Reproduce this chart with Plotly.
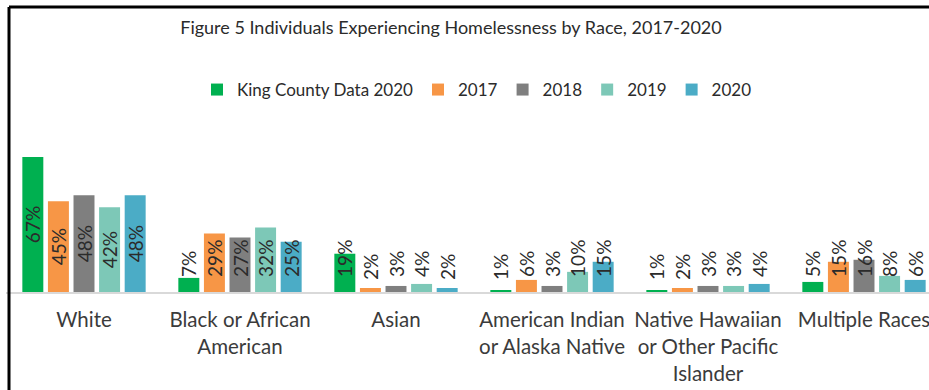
import plotly.graph_objects as go

categories = ["White", "Black or African<br>American", "Asian",
              "American Indian<br>or Alaska Native",
              "Native Hawaiian<br>or Other Pacific<br>Islander", "Multiple Races"]
series_names = ["King County Data 2020", "2017", "2018", "2019", "2020"]
king_county_2020 = [67, 7, 19, 1, 1, 5]
y2017 = [45, 29, 2, 6, 2, 15]
y2018 = [48, 27, 3, 3, 3, 16]
y2019 = [42, 32, 4, 10, 3, 8]
y2020 = [48, 25, 2, 15, 4, 6]
series_values = [king_county_2020, y2017, y2018, y2019, y2020]
colors = ["#00B050", "#F79646", "#7F7F7F", "#7DC8B7", "#4BACC6"]

FONT = "Lato"
TXT = "#2b2b2b"
CENTER_MIN = 40      # labels at or above this value sit centred in the bar
LABEL_LIFT = 6       # low labels start slightly above the baseline (style offset)

lab_font = dict(family=FONT, size=19, color=TXT)

fig = go.Figure()
for name, vals, col in zip(series_names, series_values, colors):
    fig.add_trace(go.Bar(
        name=name, x=categories, y=vals, offsetgroup=name,
        marker=dict(color=col, line=dict(width=0)),
        text=[f"{v}%" if v >= CENTER_MIN else "" for v in vals],
        textposition="inside", insidetextanchor="middle",
        textangle=-90, constraintext="none", cliponaxis=False,
        insidetextfont=lab_font, hoverinfo="skip",
    ))
for name, vals in zip(series_names, series_values):
    fig.add_trace(go.Bar(
        name=name, x=categories, y=vals, offsetgroup=name,
        base=[LABEL_LIFT] * len(vals), showlegend=False,
        marker=dict(color="rgba(0,0,0,0)", line=dict(width=0)),
        text=[f"{v}%" if v < CENTER_MIN else "" for v in vals],
        textposition="inside", insidetextanchor="start",
        textangle=-90, constraintext="none", cliponaxis=False,
        insidetextfont=lab_font, hoverinfo="skip",
    ))

W, H = 929, 390
ml, mr, mt, mb = 6, 0, 147, 98
plot_w = W - ml - mr
plot_h = H - mt - mb
cat_px = 156.0

fig.update_layout(
    width=W, height=H,
    margin=dict(l=ml, r=mr, t=mt, b=mb, pad=0, autoexpand=False),
    paper_bgcolor="white", plot_bgcolor="white",
    barmode="group", bargap=0.18, bargroupgap=0.18,
    title=dict(text="Figure 5 Individuals Experiencing Homelessness by Race, 2017-2020",
               x=451 / W, xref="container", xanchor="center",
               y=1 - 28 / H, yref="container", yanchor="middle",
               font=dict(family=FONT, size=18, color="#2b2b2b")),
    legend=dict(orientation="h", x=477 / W, xref="container", xanchor="center",
                y=1 - 90 / H, yref="container", yanchor="middle",
                font=dict(family=FONT, size=17, color="#2b2b2b"),
                itemclick=False, itemdoubleclick=False),
    xaxis=dict(range=[-0.5, -0.5 + plot_w / cat_px], showline=True,
               linecolor="#d9d9d9", linewidth=1.5, ticks="", tickangle=0,
               automargin=False, ticklabelstandoff=9,
               tickfont=dict(family=FONT, size=20.5, color="#3b3b3b"),
               showgrid=False, fixedrange=True),
    yaxis=dict(range=[0, plot_h / 2.015], visible=False, showgrid=False,
               automargin=False, fixedrange=True),
    showlegend=True,
)

bx = (9 - ml) / plot_w
by_top = (292 - 7) / plot_h
by_bot = (292 - H - 5) / plot_h
fig.add_shape(type="line", xref="paper", yref="paper", x0=bx, x1=bx,
              y0=by_top, y1=by_bot, line=dict(color="black", width=3))
fig.add_shape(type="line", xref="paper", yref="paper", x0=bx, x1=1.05,
              y0=by_top, y1=by_top, line=dict(color="black", width=3))

fig.write_html("out.html")
